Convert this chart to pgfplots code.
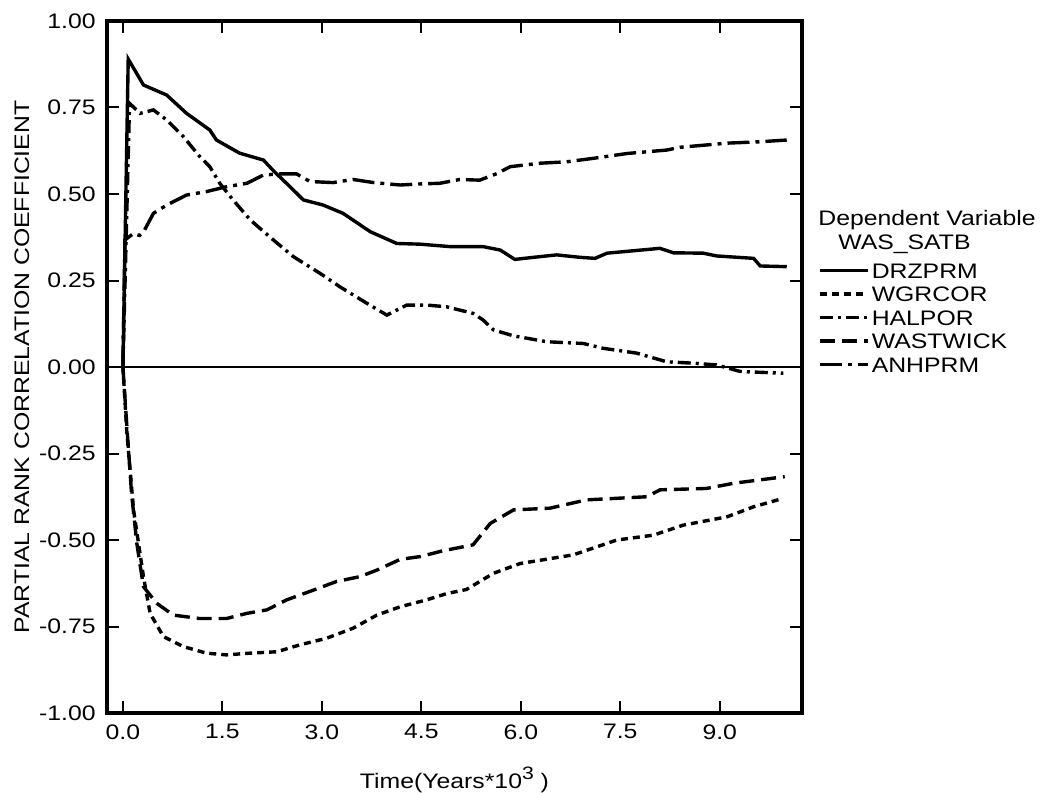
\documentclass[border=0pt]{standalone}
\usepackage{fontspec}
\setmainfont[FakeStretch=1.18]{Liberation Sans}
\usepackage{pgfplots}
\pgfplotsset{compat=1.18}
\pgfplotstableread{
x y
0 0
0.08 0.89
0.31 0.815
0.66 0.786
0.96 0.733
1.31 0.685
1.41 0.656
1.76 0.618
2.12 0.598
2.26 0.569
2.52 0.521
2.72 0.483
3.02 0.468
3.32 0.444
3.73 0.391
4.13 0.357
4.48 0.355
4.93 0.348
5.43 0.348
5.69 0.338
5.91 0.311
6.29 0.319
6.54 0.324
6.89 0.317
7.12 0.314
7.30 0.329
7.70 0.336
8.10 0.343
8.30 0.330
8.75 0.329
8.95 0.321
9.51 0.314
9.61 0.292
10.01 0.290
}\drzprm
\pgfplotstableread{
x y
0 0
0.06 -0.19
0.16 -0.413
0.31 -0.606
0.41 -0.712
0.61 -0.779
0.91 -0.808
1.26 -0.827
1.56 -0.832
1.92 -0.827
2.32 -0.823
2.67 -0.803
3.07 -0.784
3.47 -0.755
3.83 -0.717
4.18 -0.693
4.58 -0.673
4.88 -0.655
5.18 -0.643
5.59 -0.596
5.99 -0.568
6.79 -0.543
7.45 -0.500
8.00 -0.486
8.45 -0.457
9.11 -0.433
9.51 -0.404
9.95 -0.380
}\wgrcor
\pgfplotstableread{
x y
0 0
0.10 0.762
0.26 0.733
0.46 0.743
0.66 0.714
0.91 0.666
1.16 0.608
1.31 0.579
1.46 0.531
1.66 0.483
1.92 0.425
2.27 0.367
2.57 0.319
2.97 0.271
3.27 0.232
3.68 0.184
3.98 0.150
4.28 0.179
4.58 0.179
4.88 0.174
5.28 0.155
5.43 0.136
5.59 0.107
5.89 0.090
6.39 0.073
6.94 0.068
7.24 0.054
7.75 0.040
8.20 0.015
8.60 0.011
8.95 0.006
9.31 -0.013
9.96 -0.018
}\halpor
\pgfplotstableread{
x y
0 0
0.06 -0.173
0.13 -0.365
0.21 -0.510
0.31 -0.635
0.51 -0.683
0.76 -0.717
1.16 -0.727
1.56 -0.727
1.87 -0.712
2.17 -0.702
2.47 -0.673
2.87 -0.645
3.22 -0.620
3.57 -0.606
3.83 -0.587
4.18 -0.556
4.48 -0.548
4.83 -0.531
5.28 -0.514
5.54 -0.452
5.89 -0.413
6.44 -0.408
6.99 -0.384
7.90 -0.375
8.10 -0.355
8.80 -0.351
9.21 -0.336
9.98 -0.317
}\wastwick
\pgfplotstableread{
x y
0 0
0.03 0.367
0.16 0.386
0.25 0.380
0.31 0.390
0.46 0.444
0.66 0.468
0.96 0.497
1.26 0.507
1.56 0.521
1.87 0.531
2.12 0.555
2.37 0.558
2.62 0.558
2.82 0.536
3.17 0.533
3.47 0.542
3.78 0.533
4.18 0.526
4.48 0.529
4.78 0.531
5.08 0.542
5.38 0.540
5.64 0.559
5.84 0.579
6.29 0.589
6.69 0.593
7.09 0.603
7.60 0.617
8.20 0.627
8.40 0.635
9.11 0.647
9.61 0.651
10.01 0.656
}\anhprm
\begin{document}
\fontsize{10.5}{12.6}\selectfont
\begin{tikzpicture}
\begin{axis}[
  scale only axis, width=347.5pt, height=346pt,
  xmin=-0.24, xmax=10.24, ymin=-1, ymax=1,
  xtick={0,1.5,3,4.5,6,7.5,9},
  xticklabels={0.0,1.5,3.0,4.5,6.0,7.5,9.0},
  ytick={-1,-0.75,-0.5,-0.25,0,0.25,0.5,0.75,1},
  yticklabels={-1.00,-0.75,-0.50,-0.25,0.00,0.25,0.50,0.75,1.00},
  axis line style={line width=2pt},
  major tick length=6pt,
  every tick/.style={black, line width=1pt},
  tick label style={font=\fontsize{10.5}{12}\selectfont},
  xticklabel style={yshift=-2pt},
  yticklabel style={xshift=-2pt},
  xlabel={Time(Years*10\raisebox{0.75ex}{\fontsize{9}{9}\selectfont 3} )},
  xlabel style={at={(axis description cs:0.5,0)}, anchor=north, inner sep=0pt, yshift=-27pt},
  ylabel={PARTIAL RANK CORRELATION COEFFICIENT},
  ylabel style={at={(axis description cs:-0.1223,0.5)}, anchor=center, inner sep=0pt},
  legend style={at={(rel axis cs:1,0.6517)}, anchor=north west, xshift=8pt,
    draw=none, fill=none, inner sep=0pt, row sep=3.75pt,
    font=\fontsize{10.5}{12}\selectfont,
    nodes={inner ysep=0pt, inner xsep=1pt, text height=8pt, text depth=0pt}},
  legend cell align=left,
  legend image code/.code={\draw[#1] (0pt,0pt) -- (24pt,0pt);},
  clip=false,
]
\addplot[black, line width=1.7pt] table {\drzprm};
\addlegendentry{DRZPRM}
\addplot[black, line width=1.7pt, dash pattern=on 3.5pt off 2.5pt] table {\wgrcor};
\addlegendentry{WGRCOR}
\addplot[black, line width=1.7pt, dash pattern=on 6.5pt off 2.5pt on 1.5pt off 2.5pt] table {\halpor};
\addlegendentry{HALPOR}
\addplot[black, line width=1.7pt, dash pattern=on 7.5pt off 3.5pt] table {\wastwick};
\addlegendentry{WASTWICK}
\addplot[black, line width=1.7pt, dash pattern=on 11pt off 3pt on 2pt off 3pt] table {\anhprm};
\addlegendentry{ANHPRM}
\draw[line width=0.7pt] (axis cs:-0.24,0) -- (axis cs:10.24,0);
\node[anchor=base west, inner sep=0pt] at ([xshift=8pt]rel axis cs:1,0.705) {Dependent Variable};
\node[anchor=base west, inner sep=0pt] at ([xshift=18pt]rel axis cs:1,0.6705) {WAS\_SATB};
\end{axis}
\path ([xshift=-53.5pt,yshift=-39pt]current axis.south west) rectangle ([xshift=121.5pt,yshift=10.5pt]current axis.north east);
\end{tikzpicture}
\end{document}
